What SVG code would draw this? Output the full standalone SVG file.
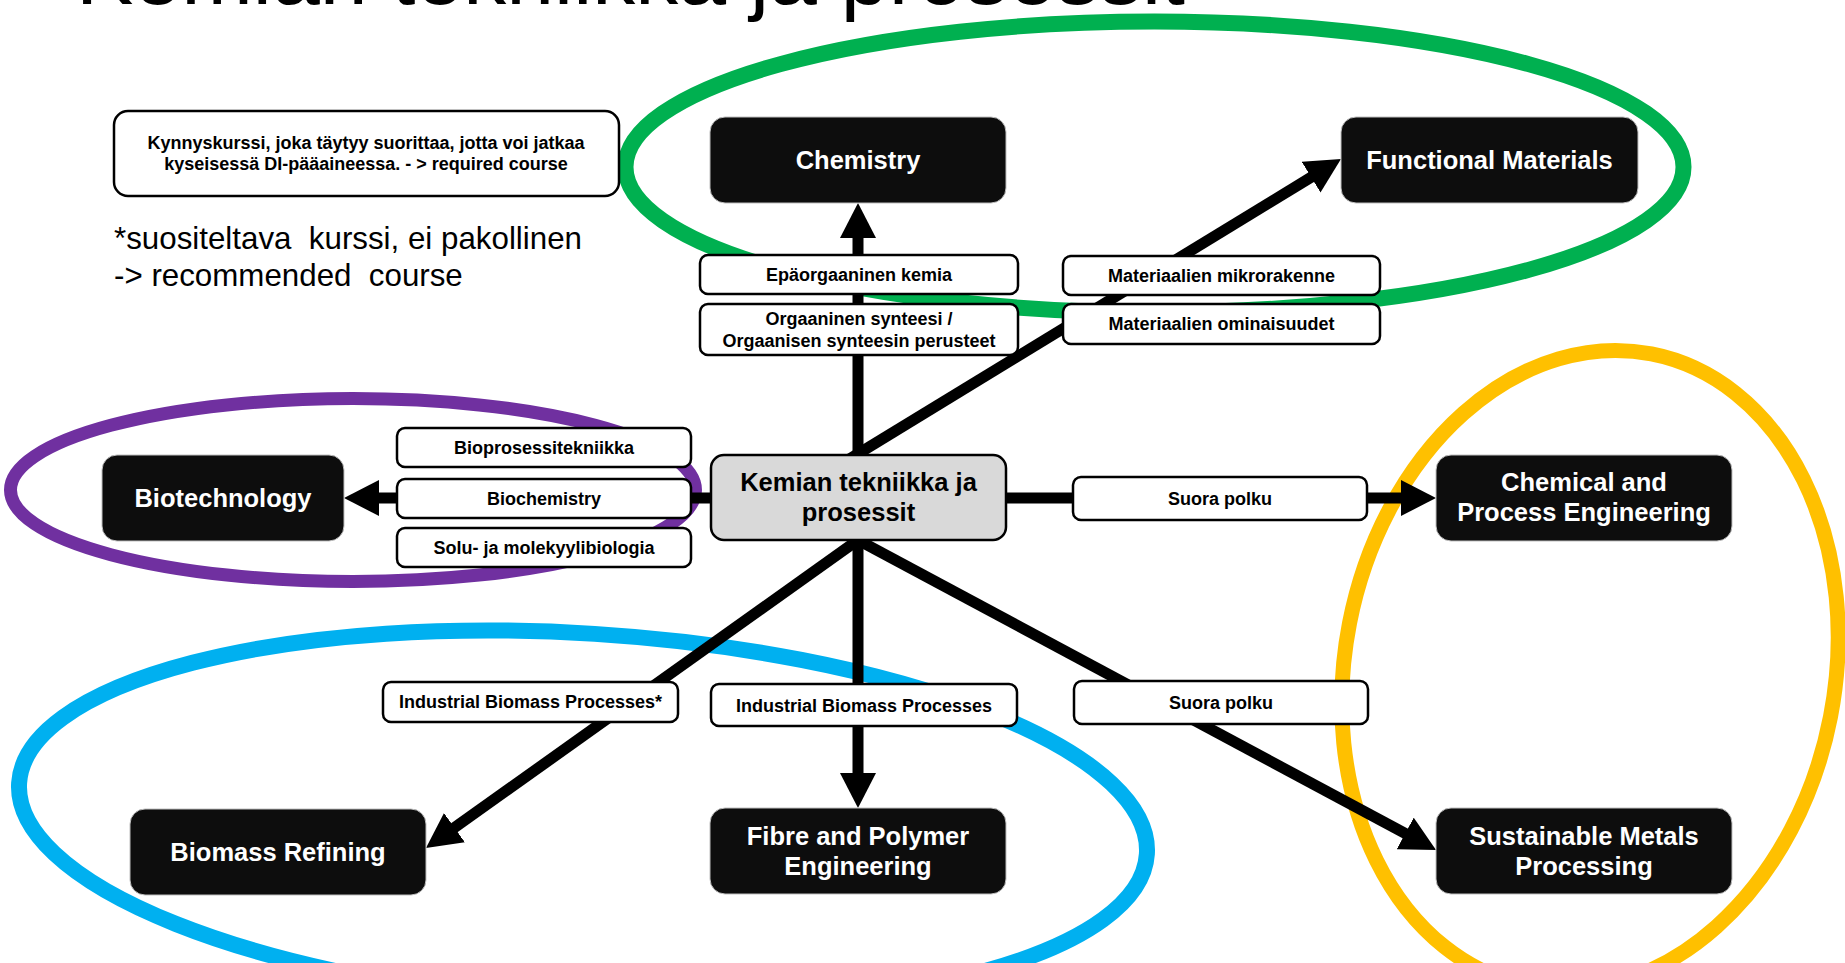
<svg xmlns="http://www.w3.org/2000/svg" width="1845" height="963" viewBox="0 0 1845 963">
  <style>
    .ell { fill: none; }
    .node rect { fill: #0d0d0d; stroke: #bfbfbf; stroke-width: 1; }
    .node text { fill: #ffffff; font-family: "Liberation Sans", Arial, sans-serif; font-weight: bold; font-size: 25.5px; text-anchor: middle; }
    .center rect { fill: #d9d9d9; stroke: #000000; stroke-width: 2.5; }
    .center text { fill: #000000; }
    .lbl rect { fill: #ffffff; stroke: #000000; stroke-width: 2.5; }
    .lbl text { fill: #000000; font-family: "Liberation Sans", Arial, sans-serif; font-weight: bold; font-size: 18px; text-anchor: middle; }
    .conn line { stroke: #000000; stroke-width: 11; marker-end: url(#ah); }
    .note { font-family: "Liberation Sans", Arial, sans-serif; font-size: 31.3px; fill: #000000; white-space: pre; }
  </style>
  <defs>
    <marker id="ah" markerUnits="userSpaceOnUse" markerWidth="36" markerHeight="36" viewBox="0 0 36 36" refX="11" refY="18" orient="auto">
      <path d="M0,0 L35,18 L0,36 Z" fill="#000000"/>
    </marker>
  </defs>
  <rect x="0" y="0" width="1845" height="963" fill="#ffffff"/>

  <text id="title" x="76" y="4" font-family="Liberation Sans, Arial, sans-serif" font-size="86" fill="#000000">Kemian tekniikka ja prosessit</text>

  <g id="groups">
    <ellipse id="green-ring" class="ell" cx="1154.5" cy="167" rx="529" ry="145.5" stroke="#00b050" stroke-width="16"/>
    <ellipse id="purple-ring" class="ell" cx="353" cy="490" rx="342.5" ry="91.5" stroke="#7030a0" stroke-width="13"/>
    <ellipse id="blue-ring" class="ell" cx="0" cy="0" rx="565" ry="185" stroke="#00b0f0" stroke-width="16" transform="translate(583 818.5) rotate(3.6)"/>
    <ellipse id="yellow-ring" class="ell" cx="0" cy="0" rx="245" ry="322" stroke="#ffc000" stroke-width="15" transform="translate(1590 670) rotate(11)"/>
  </g>

  <g id="connectors" class="conn">
    <line x1="858" y1="465" x2="858" y2="227"/>
    <line x1="845.8" y1="461.3" x2="1320.5" y2="171.5"/>
    <line x1="720" y1="498" x2="368" y2="498"/>
    <line x1="1000" y1="498" x2="1412" y2="498"/>
    <line x1="867.8" y1="533" x2="445.5" y2="834.1"/>
    <line x1="858" y1="530" x2="858" y2="784"/>
    <line x1="847.4" y1="534.3" x2="1414.9" y2="838.7"/>
  </g>

  <g id="legend-required" class="lbl">
    <rect x="114" y="111" width="505" height="85" rx="14"/>
    <text x="366" y="149">Kynnyskurssi, joka täytyy suorittaa, jotta voi jatkaa</text>
    <text x="366" y="170">kyseisessä DI-pääaineessa. - &gt; required course</text>
  </g>
  <g id="legend-recommended">
    <text class="note" x="114" y="249">*suositeltava  kurssi, ei pakollinen</text>
    <text class="note" x="114" y="286">-&gt; recommended  course</text>
  </g>

  <g id="label-epaorg" class="lbl">
    <rect x="700" y="255" width="318" height="39" rx="8"/>
    <text x="859" y="281">Epäorgaaninen kemia</text>
  </g>
  <g id="label-org" class="lbl">
    <rect x="700" y="304" width="318" height="51" rx="8"/>
    <text x="859" y="325">Orgaaninen synteesi /</text>
    <text x="859" y="347">Orgaanisen synteesin perusteet</text>
  </g>
  <g id="label-mikro" class="lbl">
    <rect x="1063" y="256" width="317" height="39" rx="8"/>
    <text x="1221.5" y="282">Materiaalien mikrorakenne</text>
  </g>
  <g id="label-omin" class="lbl">
    <rect x="1063" y="304" width="317" height="40" rx="8"/>
    <text x="1221.5" y="330">Materiaalien ominaisuudet</text>
  </g>
  <g id="label-biopro" class="lbl">
    <rect x="397" y="428" width="294" height="39" rx="8"/>
    <text x="544" y="454">Bioprosessitekniikka</text>
  </g>
  <g id="label-biochem" class="lbl">
    <rect x="397" y="479" width="294" height="39" rx="8"/>
    <text x="544" y="505">Biochemistry</text>
  </g>
  <g id="label-solu" class="lbl">
    <rect x="397" y="528" width="294" height="39" rx="8"/>
    <text x="544" y="554">Solu- ja molekyylibiologia</text>
  </g>
  <g id="label-suora1" class="lbl">
    <rect x="1073" y="477" width="294" height="43" rx="8"/>
    <text x="1220" y="505">Suora polku</text>
  </g>
  <g id="label-ibp-star" class="lbl">
    <rect x="383" y="682" width="295" height="40" rx="8"/>
    <text x="530.5" y="708">Industrial Biomass Processes*</text>
  </g>
  <g id="label-ibp" class="lbl">
    <rect x="711" y="684" width="306" height="42" rx="8"/>
    <text x="864" y="712">Industrial Biomass Processes</text>
  </g>
  <g id="label-suora2" class="lbl">
    <rect x="1074" y="681" width="294" height="43" rx="8"/>
    <text x="1221" y="709">Suora polku</text>
  </g>

  <g id="node-chemistry" class="node">
    <rect x="710" y="117" width="296" height="86" rx="15"/>
    <text x="858" y="169">Chemistry</text>
  </g>
  <g id="node-functional" class="node">
    <rect x="1341" y="117" width="297" height="86" rx="15"/>
    <text x="1489.5" y="169">Functional Materials</text>
  </g>
  <g id="node-biotech" class="node">
    <rect x="102" y="455" width="242" height="86" rx="15"/>
    <text x="223" y="507">Biotechnology</text>
  </g>
  <g id="node-center" class="node center">
    <rect x="711" y="455" width="295" height="85" rx="13"/>
    <text x="858.5" y="491">Kemian tekniikka ja</text>
    <text x="858.5" y="521">prosessit</text>
  </g>
  <g id="node-cpe" class="node">
    <rect x="1436" y="455" width="296" height="86" rx="15"/>
    <text x="1584" y="491">Chemical and</text>
    <text x="1584" y="521">Process Engineering</text>
  </g>
  <g id="node-biomass" class="node">
    <rect x="130" y="809" width="296" height="86" rx="15"/>
    <text x="278" y="861">Biomass Refining</text>
  </g>
  <g id="node-fibre" class="node">
    <rect x="710" y="808" width="296" height="86" rx="15"/>
    <text x="858" y="845">Fibre and Polymer</text>
    <text x="858" y="875">Engineering</text>
  </g>
  <g id="node-smp" class="node">
    <rect x="1436" y="808" width="296" height="86" rx="15"/>
    <text x="1584" y="845">Sustainable Metals</text>
    <text x="1584" y="875">Processing</text>
  </g>
</svg>
